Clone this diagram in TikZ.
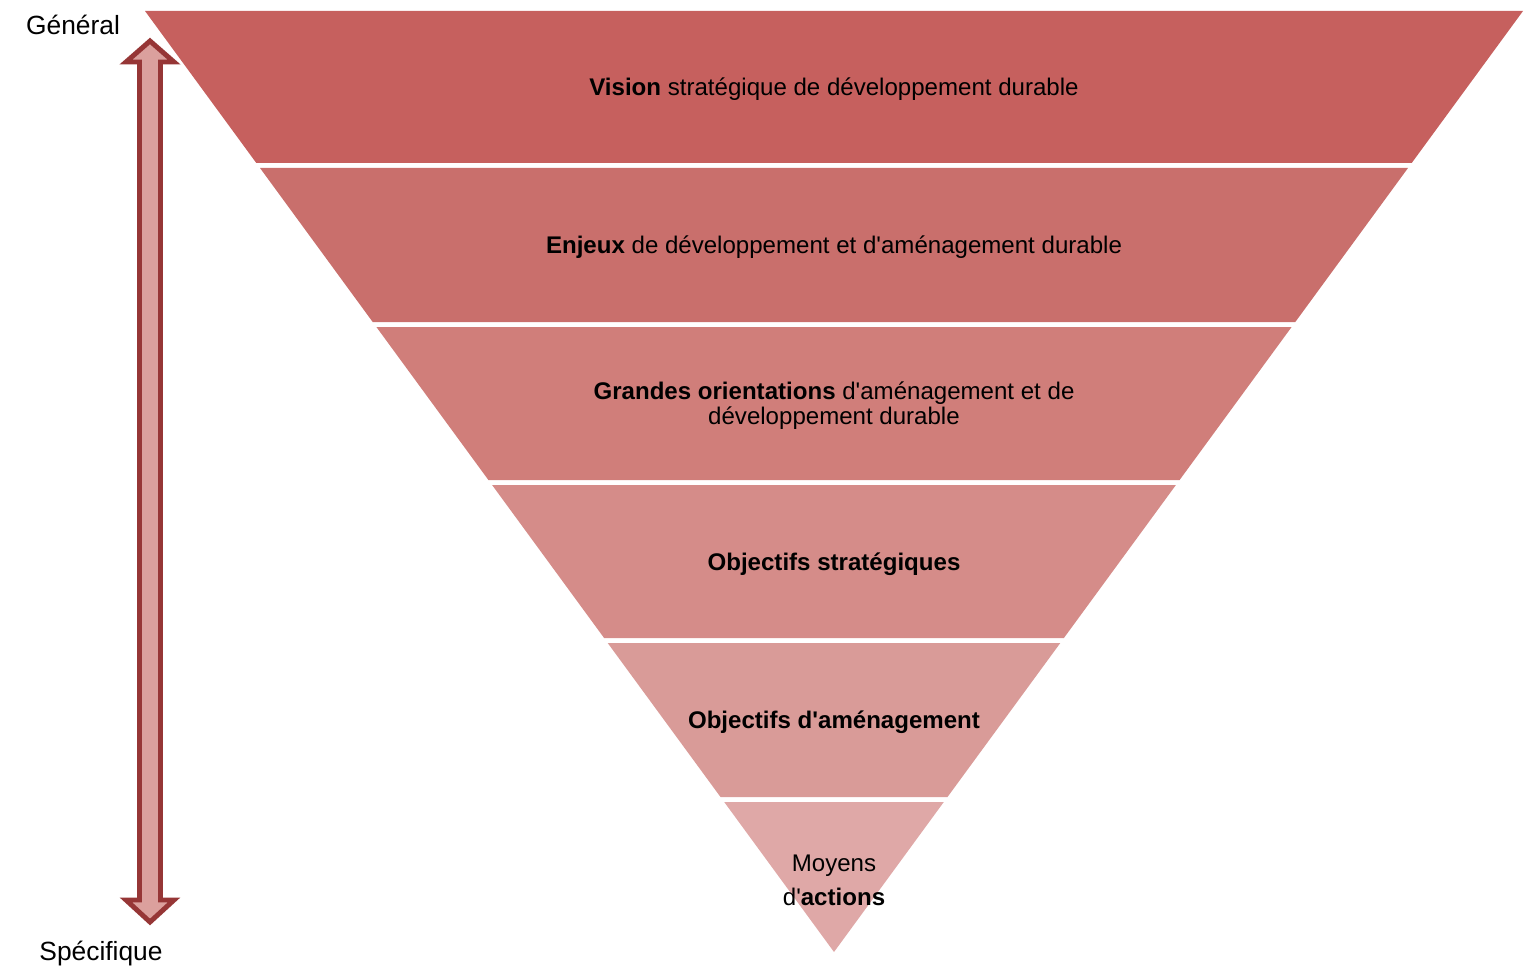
\documentclass[tikz,border=0pt]{standalone}
\usepackage{fontspec}
\setmainfont{Liberation Sans}
\tikzset{>=stealth}
\usetikzlibrary{positioning}
\definecolor{bandA}{HTML}{C6605E}
\definecolor{bandB}{HTML}{C96F6C}
\definecolor{bandC}{HTML}{D07E7A}
\definecolor{bandD}{HTML}{D58C89}
\definecolor{bandE}{HTML}{D99B98}
\definecolor{bandF}{HTML}{DFA8A7}
\colorlet{arrowFill}{bandE!95!white}
\definecolor{arrowPen}{HTML}{963636}
\newcommand{\apos}{\textquotesingle}
\tikzset{
  bandtext/.style={align=center,font=\fontsize{13.7}{14.2}\selectfont,text=black},
  sidetext/.style={font=\fontsize{15}{17}\selectfont,text=black}
}

\begin{document}
\begin{tikzpicture}[x=0.02cm,y=-0.02cm]
      \useasboundingbox (0,0) rectangle (1535,966);
      % bands of the funnel
      \fill[bandA] (145,11) -- (1523,11) -- (1411.7,163) -- (256.3,163) -- cycle;
      \fill[bandB] (260,168) -- (1408,168) -- (1295.3,322) -- (372.7,322) -- cycle;
      \fill[bandC] (376.4,327) -- (1291.6,327) -- (1179.6,480) -- (488.4,480) -- cycle;
      \fill[bandD] (492.1,485) -- (1175.9,485) -- (1063.9,638) -- (604.1,638) -- cycle;
      \fill[bandE] (607.7,643) -- (1060.3,643) -- (947.5,797) -- (720.5,797) -- cycle;
      \fill[bandF] (724.2,802) -- (943.8,802) -- (834,952) -- cycle;
      \node[bandtext] (vision) at (834,89) {\textbf{Vision} stratégique de développement durable};
      \node[bandtext] (enjeux) at (834,247) {\textbf{Enjeux} de développement et d\apos aménagement durable};
      \node[bandtext] (orient) at (834,406) {\textbf{Grandes orientations} d\apos aménagement et de\\développement durable};
      \node[bandtext] (objstrat) at (834,564) {\textbf{Objectifs stratégiques}};
      \node[bandtext] (objamen) at (834,722) {\textbf{Objectifs d\apos aménagement}};
      \node[bandtext,font=\fontsize{13.7}{19.4}\selectfont] (moyens) at (834,880) {Moyens\\d\apos\textbf{actions}};
      % double arrow on the left
      \draw[arrowPen,fill=arrowFill,line width=2.8pt,line join=miter]
        (150,41) -- (174,62) -- (160.5,62) -- (160.5,900) -- (174,900) -- (150,922)
        -- (126,900) -- (139.5,900) -- (139.5,62) -- (126,62) -- cycle;
      \node[sidetext] (general) at (73,25) {Général};
      \node[sidetext] (specif) at (101,954) {Spécifique};
\end{tikzpicture}
\end{document}
